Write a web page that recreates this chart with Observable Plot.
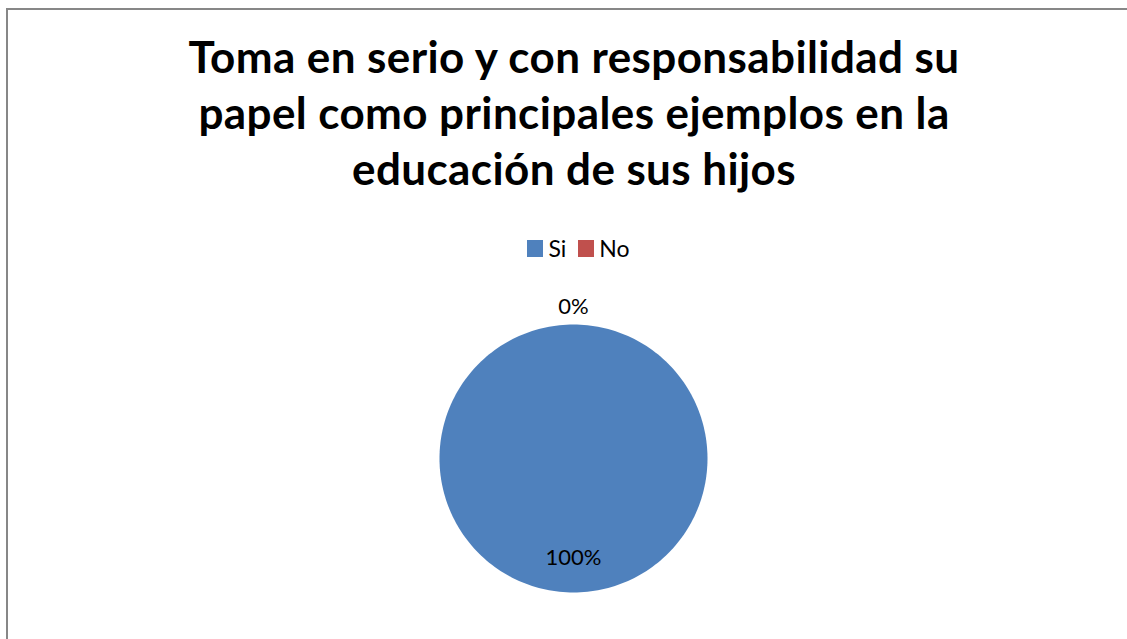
<!DOCTYPE html>
<html>
<head>
<meta charset="utf-8">
<script src="https://cdn.jsdelivr.net/npm/d3@7"></script>
<script src="https://cdn.jsdelivr.net/npm/@observablehq/plot@0.6"></script>
<style>
  html, body { margin: 0; padding: 0; background: #fff; width: 1127px; height: 639px; overflow: hidden; }
  body { position: relative; font-family: Lato, "Open Sans", sans-serif; }
  #frame { position: absolute; left: 6px; top: 8px; width: 1300px; height: 800px;
           border-left: 2px solid #878787; border-top: 2px solid #878787; }
  #title { position: absolute; left: 0; width: 1148px; top: 28px; text-align: center;
           font-weight: 700; font-size: 44px; letter-spacing: 0.4px; line-height: 56px; color: #000; }
  #legend { position: absolute; left: 15px; width: 1127px; top: 234px; height: 28px;
            display: flex; justify-content: center; align-items: center; font-size: 23px; line-height: 28px; color: #000; }
  .item { display: flex; align-items: center; margin: 0 6px; }
  .sw { width: 16px; height: 17px; margin-right: 5px; }
  #chart { position: absolute; left: 0; top: 290px; }
</style>
</head>
<body>
<div id="frame"></div>
<div id="title"></div>
<div id="legend"></div>
<div id="chart"></div>
<script>
const titleLines = [
  "Toma en serio y con responsabilidad su",
  "papel como principales ejemplos en la",
  "educación de sus hijos"
];
const categories = ["Si", "No"];
const values = [100, 0];
const colors = ["#4F81BD", "#C0504D"];

document.getElementById("title").innerHTML = titleLines.join("<br>");
const legend = document.getElementById("legend");
categories.forEach((c, i) => {
  const it = document.createElement("div");
  it.className = "item";
  it.innerHTML = `<span class="sw" style="background:${colors[i]}"></span><span>${c}</span>`;
  legend.appendChild(it);
});

const total = d3.sum(values);
const arcs = d3.pie().sort(null).startAngle(0).endAngle(2 * Math.PI)(values);

const marks = [];
arcs.forEach((a, i) => {
  if (a.endAngle - a.startAngle <= 0) return;
  const full = a.endAngle - a.startAngle >= 2 * Math.PI - 1e-9;
  const pts = [];
  if (!full) pts.push({x: 0, y: 0});
  const n = 240;
  for (let k = 0; k <= n; k++) {
    const t = a.startAngle + (a.endAngle - a.startAngle) * k / n;
    pts.push({x: Math.sin(t), y: Math.cos(t)});
  }
  marks.push(Plot.line(pts, {x: "x", y: "y", fill: colors[i], stroke: "none", curve: "linear-closed"}));
});

const labels = arcs.map((a, i) => {
  const mid = (a.startAngle + a.endAngle) / 2;
  const r = values[i] > 0 ? 0.74 : 1.13;
  return {x: r * Math.sin(mid), y: r * Math.cos(mid), text: Math.round(values[i] / total * 100) + "%"};
});
marks.push(Plot.text(labels, {x: "x", y: "y", text: "text", fontSize: 22, fill: "#000"}));

const cx = 573, cy = 168, R = 134;
const plot = Plot.plot({
  width: 1127,
  height: 330,
  x: {domain: [-1, 1], range: [cx - R, cx + R], axis: null},
  y: {domain: [-1, 1], range: [cy + R, cy - R], axis: null},
  style: {fontFamily: "Lato, 'Open Sans', sans-serif", background: "transparent", overflow: "visible"},
  marks
});
document.getElementById("chart").appendChild(plot);
</script>
</body>
</html>
